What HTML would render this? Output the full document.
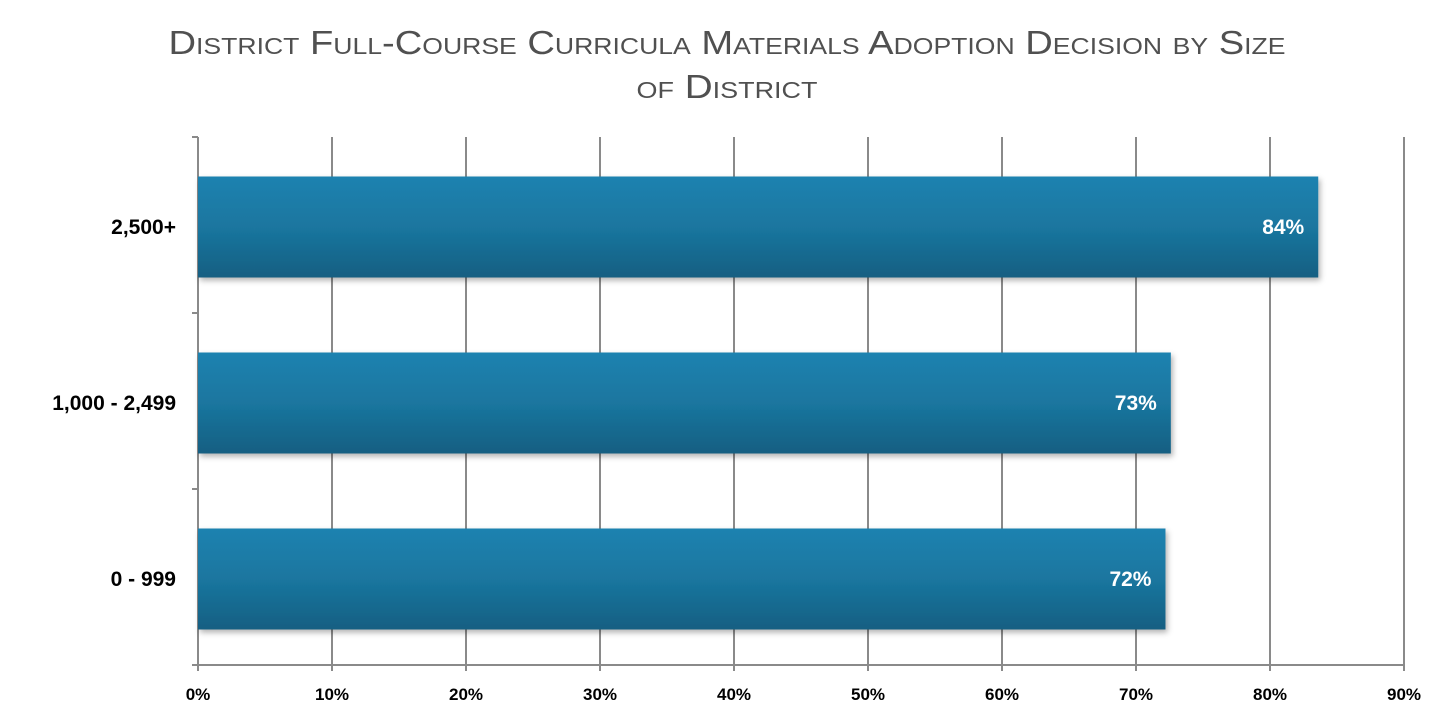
<!DOCTYPE html>
<html><head><meta charset="utf-8"><style>
html,body{margin:0;padding:0;background:#fff;}
svg{display:block;font-family:"Liberation Sans",sans-serif;}
</style></head><body>
<svg id="chart" width="1452" height="719" viewBox="0 0 1452 719">
<defs>
<linearGradient id="barGrad" x1="0" y1="0" x2="0" y2="1">
<stop offset="0" stop-color="#1a82b0"/>
<stop offset="0.5" stop-color="#1a769f"/>
<stop offset="1" stop-color="#135f82"/>
</linearGradient>
<filter id="shadow" x="-5%" y="-10%" width="110%" height="130%">
<feDropShadow dx="2" dy="3" stdDeviation="3" flood-color="#000" flood-opacity="0.3"/>
</filter>
</defs>
<g fill="#505050" style="font-variant:small-caps" font-size="33" text-anchor="middle">
<text x="727" y="54" textLength="1117" lengthAdjust="spacingAndGlyphs">District Full-Course Curricula Materials Adoption Decision by Size</text>
<text x="727" y="98" textLength="181" lengthAdjust="spacingAndGlyphs">of District</text>
</g>
<g id="grid"></g>
<g id="axes"></g>
<g id="bars"></g>
</svg>
<script>
const categories = ["2,500+", "1,000 - 2,499", "0 - 999"];
const values = [83.6, 72.6, 72.2];
const valueLabels = ["84%", "73%", "72%"];
const tickValues = [0, 10, 20, 30, 40, 50, 60, 70, 80, 90];
const tickLabels = ["0%", "10%", "20%", "30%", "40%", "50%", "60%", "70%", "80%", "90%"];

const NS = "http://www.w3.org/2000/svg";
const x0 = 198, x1 = 1404, yTop = 137, yBot = 665, xMax = 90;
const xScale = v => x0 + (v / xMax) * (x1 - x0);
const band = (yBot - yTop) / categories.length;
const barH = 101;
function mk(tag, attrs, parent) {
  const e = document.createElementNS(NS, tag);
  for (const k in attrs) e.setAttribute(k, attrs[k]);
  parent.appendChild(e);
  return e;
}
const grid = document.getElementById("grid");
const axes = document.getElementById("axes");
const bars = document.getElementById("bars");
tickValues.forEach((t, i) => {
  const x = xScale(t);
  if (i > 0) {
    const l = mk("line", {x1: x, x2: x, y1: yTop, y2: yBot + 6, stroke: "#8a8a8a", "stroke-width": 2}, grid);
    
    
  }
  const tx = mk("text", {x: x, y: 700, "text-anchor": "middle", "font-size": 17, "font-weight": "bold", fill: "#000"}, axes);
  tx.textContent = tickLabels[i];
  
  
});
const ya = mk("line", {x1: x0, x2: x0, y1: yTop, y2: yBot + 6, stroke: "#8a8a8a", "stroke-width": 2}, axes);


const xa = mk("line", {x1: x0 - 6, x2: x1, y1: yBot, y2: yBot, stroke: "#8a8a8a", "stroke-width": 2}, axes);


for (let i = 0; i <= categories.length; i++) {
  const y = yTop + i * band;
  const t = mk("line", {x1: x0 - 6, x2: x0, y1: y, y2: y, stroke: "#8a8a8a", "stroke-width": 2}, axes);
  
  
}
categories.forEach((c, i) => {
  const cy = yTop + band * i + band / 2 + 2;
  const lab = mk("text", {x: 176, y: cy + 7, "text-anchor": "end", "font-size": 21, "font-weight": "bold", fill: "#000"}, axes);
  lab.textContent = c;
  
  
  const w = xScale(values[i]) - x0;
  const r = mk("rect", {x: x0, y: cy - barH / 2, width: w, height: barH, fill: "url(#barGrad)", filter: "url(#shadow)"}, bars);
  
  
  const vt = mk("text", {x: x0 + w - 14, y: cy + 7, "text-anchor": "end", "font-size": 21, "font-weight": "bold", fill: "#fff"}, bars);
  vt.textContent = valueLabels[i];
  
  
});
</script>
</body></html>
